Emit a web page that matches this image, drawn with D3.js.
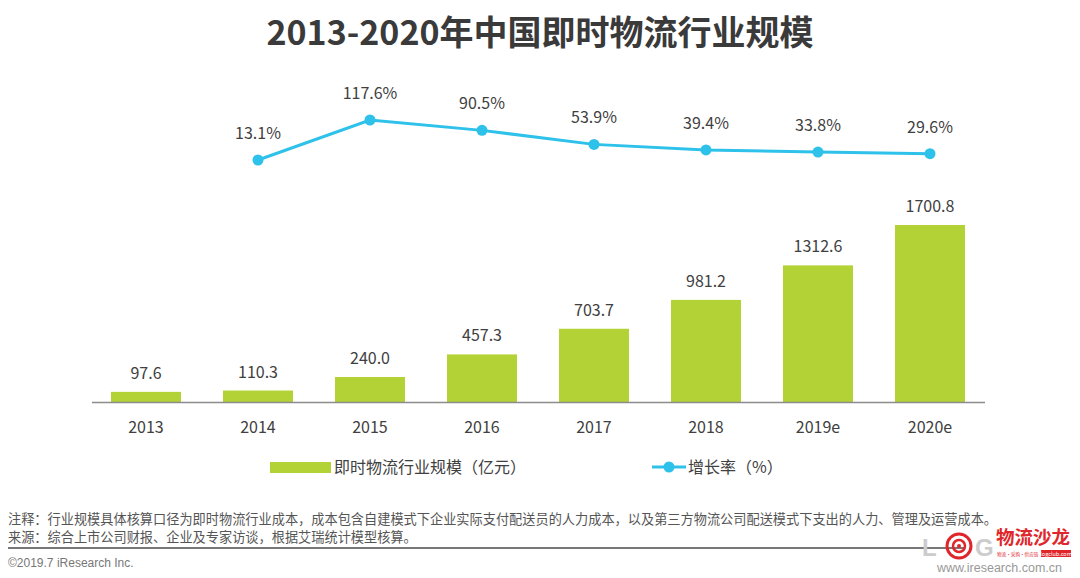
<!DOCTYPE html>
<html><head><meta charset="utf-8">
<script src="https://cdn.jsdelivr.net/npm/d3@7"></script>
<style>body{margin:0;background:#fff;}svg{display:block;font-family:"Noto Sans CJK SC","Noto Sans",sans-serif;}</style>
</head><body>
<svg id="c" width="1080" height="578"></svg>
<script>
const categories = ["2013","2014","2015","2016","2017","2018","2019e","2020e"];
const scaleValues = [97.6,110.3,240.0,457.3,703.7,981.2,1312.6,1700.8];
const growthYears = ["2014","2015","2016","2017","2018","2019e","2020e"];
const growthValues = [13.1,117.6,90.5,53.9,39.4,33.8,29.6];
const title = "2013-2020年中国即时物流行业规模";
const legendBar = "即时物流行业规模（亿元）";
const legendLine = "增长率（%）";
const note1 = "注释：行业规模具体核算口径为即时物流行业成本，成本包含自建模式下企业实际支付配送员的人力成本，以及第三方物流公司配送模式下支出的人力、管理及运营成本。";
const note2 = "来源：综合上市公司财报、企业及专家访谈，根据艾瑞统计模型核算。";

const svg = d3.select("#c");
const txt = "#404040";
const barColor = "#b2d235";
const lineColor = "#2ec1ea";

svg.append("text").attr("x",540).attr("y",45).attr("text-anchor","middle")
  .attr("font-size",34).attr("font-weight","bold").attr("fill","#3a3a3a").text(title);

const x = d3.scaleBand().domain(categories).range([90,986]).paddingInner(0.375).paddingOuter(0.1875);
const yB = d3.scaleLinear().domain([0,1700.8]).range([402,225]);
const yL = d3.scaleLinear().domain([0,117.6]).range([165,120]);

svg.append("g").selectAll("rect").data(categories).join("rect")
  .attr("x",d=>x(d)).attr("width",x.bandwidth())
  .attr("y",(d,i)=>yB(scaleValues[i])).attr("height",(d,i)=>yB(0)-yB(scaleValues[i]))
  .attr("fill",barColor);

svg.append("line").attr("x1",92).attr("x2",985).attr("y1",402.5).attr("y2",402.5)
  .attr("stroke","#8c8c8c").attr("stroke-width",1.5);

svg.append("g").selectAll("text").data(categories).join("text")
  .attr("x",(d,i)=>x(d)+x.bandwidth()/2).attr("y",(d,i)=>yB(scaleValues[i])-13)
  .attr("text-anchor","middle").attr("font-size",16).attr("fill",txt)
  .text((d,i)=>scaleValues[i].toFixed(1));

svg.append("g").selectAll("text").data(categories).join("text")
  .attr("x",d=>x(d)+x.bandwidth()/2).attr("y",433)
  .attr("text-anchor","middle").attr("font-size",16).attr("fill",txt).text(d=>d);

const cx = d=>x(d)+x.bandwidth()/2;
const line = d3.line().x((d,i)=>cx(growthYears[i])).y(d=>yL(d));
svg.append("path").datum(growthValues).attr("d",line).attr("fill","none")
  .attr("stroke",lineColor).attr("stroke-width",3);
svg.append("g").selectAll("circle").data(growthValues).join("circle")
  .attr("cx",(d,i)=>cx(growthYears[i])).attr("cy",d=>yL(d)).attr("r",5.5).attr("fill",lineColor);
svg.append("g").selectAll("text").data(growthValues).join("text")
  .attr("x",(d,i)=>cx(growthYears[i])).attr("y",d=>yL(d)-21)
  .attr("text-anchor","middle").attr("font-size",16).attr("fill",txt).text(d=>d.toFixed(1)+"%");

// legend
svg.append("rect").attr("x",270).attr("y",462).attr("width",61).attr("height",11).attr("fill",barColor);
svg.append("text").attr("x",334).attr("y",473).attr("font-size",16).attr("fill",txt).text(legendBar);
svg.append("line").attr("x1",652).attr("x2",686).attr("y1",467).attr("y2",467).attr("stroke",lineColor).attr("stroke-width",3);
svg.append("circle").attr("cx",669).attr("cy",467).attr("r",5.5).attr("fill",lineColor);
svg.append("text").attr("x",688).attr("y",473).attr("font-size",16).attr("fill",txt).text(legendLine);

// footer
svg.append("text").attr("x",8).attr("y",524).attr("font-size",13.2).attr("fill","#555").text(note1);
svg.append("text").attr("x",8).attr("y",542).attr("font-size",13.2).attr("fill","#555").text(note2);
svg.append("line").attr("x1",8).attr("x2",965).attr("y1",548).attr("y2",548).attr("stroke","#777").attr("stroke-width",2);
svg.append("text").attr("x",8).attr("y",567).attr("font-size",12).attr("fill","#777")
  .attr("font-family","Liberation Sans, Arial, sans-serif").text("©2019.7 iResearch Inc.");
svg.append("text").attr("x",1062).attr("y",572).attr("text-anchor","end").attr("font-size",12.5).attr("fill","#999")
  .attr("font-family","Liberation Sans, Arial, sans-serif").text("www.iresearch.com.cn");

// logo
const lg = svg.append("g");
lg.append("text").attr("x",922).attr("y",556).attr("font-size",24).attr("font-weight","bold").attr("fill","#ccc")
  .attr("font-family","Liberation Sans, Arial, sans-serif").text("L");
lg.append("circle").attr("cx",959).attr("cy",546).attr("r",12).attr("fill","none").attr("stroke","#e0262b").attr("stroke-width",3);
lg.append("circle").attr("cx",959).attr("cy",546).attr("r",6).attr("fill","none").attr("stroke","#e0262b").attr("stroke-width",2.5);
lg.append("circle").attr("cx",959).attr("cy",546).attr("r",2).attr("fill","#e0262b");
lg.append("text").attr("x",975).attr("y",556).attr("font-size",24).attr("font-weight","bold").attr("fill","#ccc")
  .attr("font-family","Liberation Sans, Arial, sans-serif").text("G");
lg.append("text").attr("x",996).attr("y",544).attr("font-size",18.5).attr("font-weight","bold").attr("fill","#e0262b").text("物流沙龙");
lg.append("rect").attr("x",1041).attr("y",550).attr("width",30).attr("height",7).attr("fill","#e0262b");
lg.append("text").attr("x",1056).attr("y",555.5).attr("text-anchor","middle").attr("font-size",5.5).attr("fill","#fff").text("logclub.com");
lg.append("text").attr("x",997).attr("y",556).attr("font-size",4.6).attr("fill","#e0262b").text("物流·采购·供应链");
</script>
</body></html>
